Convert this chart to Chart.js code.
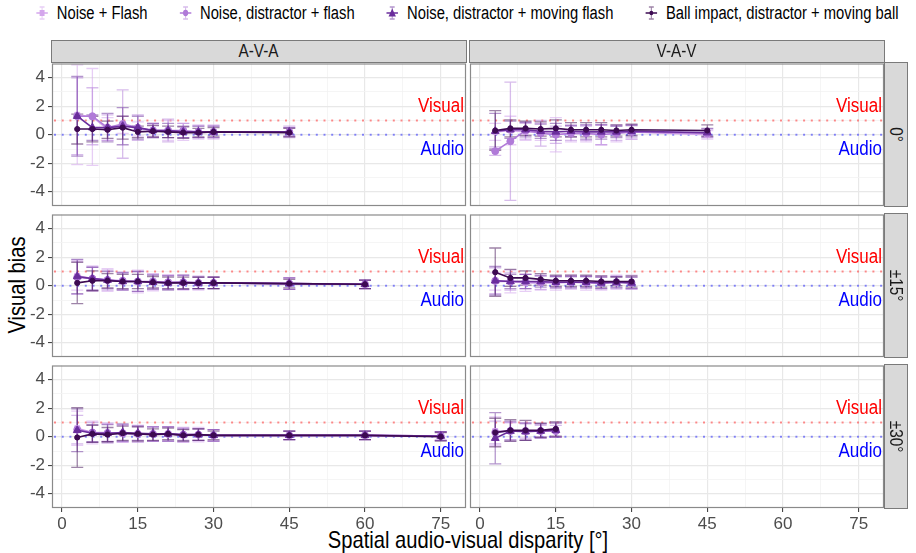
<!DOCTYPE html>
<html>
<head>
<meta charset="utf-8">
<script src="https://cdn.jsdelivr.net/npm/chart.js@4.4.0/dist/chart.umd.min.js"></script>
<style>
  body { margin: 0; background: #fff; width: 916px; height: 553px; overflow: hidden; position: relative;
         font-family: "Liberation Sans", Arial, sans-serif; }
  canvas { position: absolute; }
  .strip { position: absolute; background: #d9d9d9; border: 1px solid #7a7a7a; box-sizing: border-box;
           color: #1a1a1a; font-size: 18px; display: flex; align-items: center; justify-content: center; }
  .strip span { display: inline-block; transform: scaleX(0.85); white-space: nowrap; }
  .strip span.rot { transform: rotate(90deg) scaleX(0.85); }
  #legend { position: absolute; top: 2px; left: 467px; height: 22px; display: flex; align-items: center;
            font-size: 18px; color: #000; transform: translateX(-50%) scaleX(0.82); white-space: nowrap; }
  #legend .item { display: flex; align-items: center; margin: 0 19px; }
  #legend svg { margin-right: 10px; }
  .title { position: absolute; font-size: 24px; color: #000; white-space: nowrap; }
</style>
</head>
<body>
<div id="legend"></div>
<div class="title" style="left:17px;top:285px;transform:translate(-50%,-50%) rotate(-90deg) scaleX(0.84);">Visual bias</div>
<div class="title" style="left:468px;top:540px;transform:translate(-50%,-50%) scaleX(0.84);">Spatial audio-visual disparity [°]</div>

<script>
// conditions, one line per stimulus type
const seriesNames = ['Noise + Flash', 'Noise, distractor + flash', 'Noise, distractor + moving flash', 'Ball impact, distractor + moving ball'];
const columnNames = ['A-V-A', 'V-A-V'];
const rowNames = ['0°', '±15°', '±30°'];

const xTicks = [0, 7.5, 15, 22.5, 30, 37.5, 45, 52.5, 60, 67.5, 75];
const yTicks = [-4, -3, -2, -1, 0, 1, 2, 3, 4];

// A-V-A, 0°
const ava0X = [3, 6, 9, 12, 15, 18, 21, 24, 27, 30, 45];
const ava0Mean = [
  [1.4, 1.25, 0.4, 0.7, 0.4, 0.3, 0.3, 0.2, 0.2, 0.2, 0.2],
  [1.3, 1.3, 0.5, 0.75, 0.5, 0.3, 0.3, 0.3, 0.2, 0.2, 0.2],
  [1.3, 0.5, 0.5, 0.6, 0.5, 0.3, 0.3, 0.2, 0.2, 0.2, 0.2],
  [0.4, 0.4, 0.35, 0.5, 0.2, 0.25, 0.2, 0.15, 0.15, 0.2, 0.15]
];
const ava0Err = [
  [3.5, 3.4, 0.8, 0.6, 0.5, 0.4, 0.7, 0.6, 0.5, 0.5, 0.3],
  [2.7, 2.0, 0.9, 2.4, 0.9, 0.5, 0.8, 0.5, 0.4, 0.4, 0.4],
  [2.8, 0.9, 1.0, 1.3, 0.8, 0.5, 0.5, 0.4, 0.4, 0.4, 0.3],
  [1.05, 0.9, 0.6, 0.8, 0.4, 0.4, 0.4, 0.4, 0.3, 0.3, 0.3]
];

// V-A-V, 0°
const vav0X = [3, 6, 9, 12, 15, 18, 21, 24, 27, 30, 45];
const vav0Mean = [
  [0.2, 0.3, 0.2, 0.2, 0.0, 0.1, 0.1, 0.0, 0.1, 0.2, 0.0],
  [-1.15, -0.45, 0.3, 0.1, 0.0, 0.1, 0.1, 0.0, 0.1, 0.2, 0.1],
  [0.25, 0.35, 0.35, 0.25, 0.2, 0.25, 0.2, 0.2, 0.2, 0.25, 0.15],
  [0.3, 0.45, 0.45, 0.4, 0.45, 0.35, 0.35, 0.35, 0.3, 0.35, 0.3]
];
const vav0Err = [
  [0.6, 1.0, 0.6, 0.6, 1.2, 0.6, 0.6, 0.7, 0.6, 0.5, 0.3],
  [0.3, 4.15, 0.6, 0.9, 0.6, 0.5, 0.5, 0.7, 0.5, 0.5, 0.3],
  [1.25, 0.6, 0.5, 0.5, 0.6, 0.4, 0.5, 0.5, 0.4, 0.4, 0.3],
  [1.4, 0.6, 0.5, 0.5, 0.6, 0.5, 0.5, 0.5, 0.4, 0.4, 0.4]
];

// A-V-A, ±15°
const ava15X = [3, 6, 9, 12, 15, 18, 21, 24, 27, 30, 45, 60];
const ava15Mean = [
  [0.7, 0.5, 0.4, 0.3, 0.3, 0.25, 0.25, 0.2, 0.2, 0.2, 0.15, 0.1],
  [0.6, 0.5, 0.4, 0.35, 0.3, 0.3, 0.25, 0.25, 0.2, 0.2, 0.15, 0.1],
  [0.65, 0.5, 0.4, 0.3, 0.3, 0.25, 0.2, 0.25, 0.2, 0.2, 0.15, 0.1],
  [0.2, 0.35, 0.35, 0.3, 0.3, 0.25, 0.2, 0.2, 0.2, 0.2, 0.15, 0.1]
];
const ava15Err = [
  [1.0, 0.9, 0.8, 0.6, 0.8, 0.6, 0.5, 0.5, 0.5, 0.4, 0.4, 0.3],
  [1.2, 0.8, 0.7, 0.6, 0.7, 0.5, 0.5, 0.5, 0.4, 0.4, 0.4, 0.3],
  [1.2, 0.8, 0.6, 0.6, 0.7, 0.5, 0.5, 0.5, 0.4, 0.4, 0.4, 0.3],
  [1.45, 0.7, 0.5, 0.5, 0.5, 0.4, 0.4, 0.4, 0.4, 0.4, 0.3, 0.3]
];

// V-A-V, ±15°
const vav15X = [3, 6, 9, 12, 15, 18, 21, 24, 27, 30];
const vav15Mean = [
  [0.3, 0.3, 0.2, 0.2, 0.2, 0.25, 0.2, 0.2, 0.25, 0.25],
  [0.35, 0.3, 0.3, 0.25, 0.25, 0.25, 0.25, 0.2, 0.25, 0.2],
  [0.35, 0.3, 0.3, 0.3, 0.25, 0.25, 0.25, 0.2, 0.25, 0.2],
  [0.95, 0.55, 0.55, 0.45, 0.35, 0.35, 0.35, 0.3, 0.3, 0.3]
];
const vav15Err = [
  [0.6, 0.8, 0.6, 0.5, 0.5, 0.5, 0.5, 0.5, 0.5, 0.5],
  [0.9, 0.6, 0.5, 0.5, 0.4, 0.4, 0.4, 0.4, 0.4, 0.4],
  [1.0, 0.5, 0.5, 0.4, 0.4, 0.4, 0.4, 0.4, 0.4, 0.4],
  [1.7, 0.6, 0.5, 0.4, 0.4, 0.4, 0.4, 0.4, 0.3, 0.4]
];

// A-V-A, ±30°
const ava30X = [3, 6, 9, 12, 15, 18, 21, 24, 27, 30, 45, 60, 75];
const ava30Mean = [
  [0.6, 0.3, 0.3, 0.2, 0.2, 0.2, 0.2, 0.1, 0.15, 0.1, 0.1, 0.1, 0.05],
  [0.5, 0.3, 0.25, 0.25, 0.2, 0.2, 0.2, 0.15, 0.15, 0.1, 0.1, 0.1, 0.05],
  [0.45, 0.25, 0.25, 0.3, 0.25, 0.2, 0.2, 0.15, 0.15, 0.1, 0.1, 0.1, 0.05],
  [-0.05, 0.2, 0.15, 0.25, 0.2, 0.15, 0.2, 0.1, 0.15, 0.1, 0.1, 0.1, 0.0]
];
const ava30Err = [
  [1.2, 0.8, 0.6, 0.6, 0.5, 0.5, 0.5, 0.5, 0.5, 0.4, 0.3, 0.3, 0.3],
  [1.0, 0.7, 0.7, 0.6, 0.6, 0.5, 0.5, 0.5, 0.4, 0.4, 0.3, 0.3, 0.3],
  [1.5, 0.6, 0.6, 0.6, 0.5, 0.5, 0.5, 0.4, 0.4, 0.4, 0.3, 0.3, 0.3],
  [2.1, 0.6, 0.5, 0.5, 0.5, 0.4, 0.4, 0.4, 0.4, 0.3, 0.3, 0.3, 0.3]
];

// V-A-V, ±30°
const vav30X = [3, 6, 9, 12, 15];
const vav30Mean = [
  [0.4, 0.4, 0.4, 0.4, 0.5],
  [0.3, 0.4, 0.4, 0.4, 0.4],
  [-0.1, 0.4, 0.35, 0.4, 0.45],
  [0.3, 0.45, 0.45, 0.45, 0.55]
];
const vav30Err = [
  [1.0, 0.6, 0.6, 0.5, 0.5],
  [0.8, 0.6, 0.5, 0.4, 0.4],
  [1.8, 0.7, 0.6, 0.5, 0.5],
  [1.0, 0.75, 0.7, 0.5, 0.5]
];

// look of each line
const lineColors = ['#d4a6ec', '#b07ad8', '#6a2d9c', '#3d0a52'];
const barColors = ['rgba(212,166,236,0.55)', 'rgba(176,122,216,0.5)', 'rgba(106,45,156,0.5)', 'rgba(61,10,82,0.5)'];
const pointStyles = ['rect', 'circle', 'triangle', 'circle'];
const pointSizes = [3.5, 3.5, 4.5, 2.6];

const FONT = '"Liberation Sans", Arial, sans-serif';

// panel geometry (ggplot facet grid)
const colLeft = [52, 470];
const rowTop = [62, 213, 364];
const panelW = 414, panelH = 144;
const axisW = 40, axisH = 32, pad = 4;

// dotted reference lines at 0 (audio) and 1 (visual)
const refLines = {
  id: 'refLines',
  beforeDatasetsDraw(chart) {
    const { ctx, chartArea: a, scales: { y } } = chart;
    ctx.save();
    ctx.lineWidth = 2;
    ctx.setLineDash([2, 5.7]);
    [[1, 'rgba(255,0,0,0.45)'], [0, 'rgba(0,0,255,0.45)']].forEach(([v, c]) => {
      const py = y.getPixelForValue(v);
      ctx.strokeStyle = c;
      ctx.beginPath();
      ctx.moveTo(a.left + 2, py);
      ctx.lineTo(a.right, py);
      ctx.stroke();
    });
    ctx.restore();
  }
};

// vertical error bars with caps
const errorBars = {
  id: 'errorBars',
  beforeDatasetsDraw(chart) {
    const { ctx, chartArea: a, scales: { x, y } } = chart;
    ctx.save();
    ctx.beginPath();
    ctx.rect(a.left, a.top, a.width, a.height);
    ctx.clip();
    ctx.lineWidth = 1.3;
    chart.data.datasets.forEach((ds, i) => {
      ctx.strokeStyle = barColors[i];
      ds.data.forEach((p, j) => {
        const px = x.getPixelForValue(p.x);
        const top = y.getPixelForValue(p.y + ds.errors[j]);
        const bot = y.getPixelForValue(p.y - ds.errors[j]);
        ctx.beginPath();
        ctx.moveTo(px, top); ctx.lineTo(px, bot);
        ctx.moveTo(px - 6, top); ctx.lineTo(px + 6, top);
        ctx.moveTo(px - 6, bot); ctx.lineTo(px + 6, bot);
        ctx.stroke();
      });
    });
    ctx.restore();
  }
};

// narrow-set text, right aligned at (px, py)
function narrowText(ctx, text, px, py, color) {
  ctx.save();
  ctx.translate(px, py);
  ctx.scale(0.85, 1);
  ctx.fillStyle = color;
  ctx.fillText(text, 0, 0);
  ctx.restore();
}

// "Visual" / "Audio" labels and the panel frame
const panelDecor = {
  id: 'panelDecor',
  afterDatasetsDraw(chart) {
    const { ctx, scales: { x, y } } = chart;
    ctx.save();
    ctx.font = '20px ' + FONT;
    ctx.textAlign = 'right';
    ctx.textBaseline = 'middle';
    narrowText(ctx, 'Visual', x.getPixelForValue(79.6), y.getPixelForValue(2), '#ff0000');
    narrowText(ctx, 'Audio', x.getPixelForValue(79.6), y.getPixelForValue(-1), '#0000ff');
    ctx.restore();
  },
  afterDraw(chart) {
    const { ctx, chartArea: a } = chart;
    ctx.save();
    ctx.strokeStyle = '#8a8a8a';
    ctx.lineWidth = 1.2;
    ctx.strokeRect(a.left + 0.5, a.top + 0.5, a.width - 1, a.height - 1);
    ctx.restore();
  }
};

function makePanel(xs, means, errs, row, col) {
  const canvas = document.createElement('canvas');
  canvas.width = panelW + axisW + pad * 2;
  canvas.height = panelH + axisH + pad;
  canvas.style.left = (colLeft[col] - axisW) + 'px';
  canvas.style.top = (rowTop[row] - pad) + 'px';
  document.body.appendChild(canvas);

  const showY = col === 0;
  const showX = row === 2;

  const datasets = seriesNames.map((name, i) => ({
    label: name,
    data: xs.map((x, j) => ({ x: x, y: means[i][j] })),
    errors: errs[i],
    borderColor: lineColors[i],
    backgroundColor: lineColors[i],
    borderWidth: 1.6,
    pointStyle: pointStyles[i],
    pointRadius: pointSizes[i],
    pointBorderWidth: 1,
    order: 4 - i
  }));

  new Chart(canvas, {
    type: 'line',
    data: { datasets: datasets },
    plugins: [refLines, errorBars, panelDecor],
    options: {
      responsive: false,
      animation: false,
      layout: { padding: { left: 0, top: pad, right: pad * 2, bottom: 0 } },
      plugins: { legend: { display: false }, tooltip: { enabled: false } },
      scales: {
        x: {
          type: 'linear',
          min: -2,
          max: 80,
          afterBuildTicks: s => { s.ticks = xTicks.map(v => ({ value: v })); },
          afterFit: s => { s.height = axisH; s.paddingLeft = 0; s.paddingRight = 0; },
          border: { display: false },
          grid: {
            color: c => (c.tick && c.tick.value % 15 === 0) ? '#e8e8e8' : '#f3f3f3',
            lineWidth: c => (c.tick && c.tick.value % 15 === 0) ? 1.2 : 0.8,
            drawTicks: showX,
            tickLength: 4,
            tickColor: c => (c.tick && c.tick.value % 15 === 0) ? '#333' : 'rgba(0,0,0,0)',
            tickWidth: 1
          },
          ticks: {
            display: showX,
            autoSkip: false,
            maxRotation: 0,
            padding: 2,
            color: '#4d4d4d',
            font: { size: 17, family: FONT },
            callback: v => v % 15 === 0 ? String(v) : ''
          }
        },
        y: {
          type: 'linear',
          min: -5,
          max: 5,
          afterBuildTicks: s => { s.ticks = yTicks.map(v => ({ value: v })); },
          afterFit: s => { s.width = axisW; s.paddingTop = 0; s.paddingBottom = 0; },
          border: { display: false },
          grid: {
            color: c => (c.tick && c.tick.value % 2 === 0) ? '#e8e8e8' : '#f3f3f3',
            lineWidth: c => (c.tick && c.tick.value % 2 === 0) ? 1.2 : 0.8,
            drawTicks: showY,
            tickLength: 4,
            tickColor: c => (c.tick && c.tick.value % 2 === 0) ? '#333' : 'rgba(0,0,0,0)',
            tickWidth: 1
          },
          ticks: {
            display: showY,
            autoSkip: false,
            padding: 3,
            color: '#4d4d4d',
            font: { size: 17, family: FONT },
            callback: v => v % 2 === 0 ? String(v) : ''
          }
        }
      }
    }
  });
}

makePanel(ava0X, ava0Mean, ava0Err, 0, 0);
makePanel(vav0X, vav0Mean, vav0Err, 0, 1);
makePanel(ava15X, ava15Mean, ava15Err, 1, 0);
makePanel(vav15X, vav15Mean, vav15Err, 1, 1);
makePanel(ava30X, ava30Mean, ava30Err, 2, 0);
makePanel(vav30X, vav30Mean, vav30Err, 2, 1);

// facet strips
columnNames.forEach((name, c) => {
  const d = document.createElement('div');
  d.className = 'strip';
  d.style.left = (colLeft[c] - 1) + 'px';
  d.style.top = '40px';
  d.style.width = (panelW + 2) + 'px';
  d.style.height = '23px';
  d.innerHTML = '<span>' + name + '</span>';
  document.body.appendChild(d);
});
rowNames.forEach((name, r) => {
  const d = document.createElement('div');
  d.className = 'strip';
  d.style.left = (colLeft[1] + panelW) + 'px';
  d.style.top = rowTop[r] + 'px';
  d.style.width = '24px';
  d.style.height = (panelH + 1) + 'px';
  d.innerHTML = '<span class="rot">' + name + '</span>';
  document.body.appendChild(d);
});

// legend keys: line, error bar and point shape
const legend = document.getElementById('legend');
seriesNames.forEach((name, i) => {
  const c = lineColors[i];
  let shape;
  if (pointStyles[i] === 'rect') shape = `<rect x="5" y="5" width="6" height="6" fill="${c}"/>`;
  else if (pointStyles[i] === 'triangle') shape = `<polygon points="8,3.5 12.5,11.5 3.5,11.5" fill="${c}"/>`;
  else shape = `<circle cx="8" cy="8" r="${pointSizes[i] * 0.9}" fill="${c}"/>`;
  const item = document.createElement('span');
  item.className = 'item';
  item.innerHTML = `<svg width="16" height="16" viewBox="0 0 16 16">
      <line x1="1" y1="8" x2="15" y2="8" stroke="${c}" stroke-width="1.5"/>
      <path d="M8 2V14M5 2H11M5 14H11" stroke="${barColors[i]}" stroke-width="1.3" fill="none"/>
      ${shape}</svg><span>${name}</span>`;
  legend.appendChild(item);
});
</script>
</body>
</html>
